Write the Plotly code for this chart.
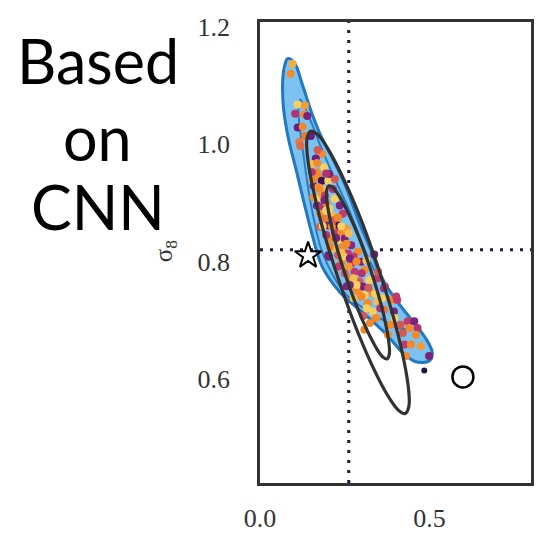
import plotly.graph_objects as go

# ---------------- data (Omega_m, sigma_8) ----------------
x_ticks = [0.0, 0.5]
x_ticktext = ["0.0", "0.5"]
y_ticks = [0.6, 0.8, 1.0, 1.2]
y_ticktext = ["0.6", "0.8", "1.0", "1.2"]

fiducial_om = 0.262
fiducial_s8 = 0.82

star_om = [0.142]
star_s8 = [0.810]
circle_om = [0.599]
circle_s8 = [0.603]
lone_om = [0.485]
lone_s8 = [0.614]

# outer (95%) CNN contour
outer_om = [0.0814, 0.1017, 0.1250, 0.1512, 0.1802, 0.2180, 0.2500, 0.2674, 0.2965, 0.3256,
            0.3430, 0.3721, 0.4128, 0.4506, 0.4884, 0.5087, 0.5000, 0.4593, 0.4215, 0.3721,
            0.3052, 0.2384, 0.1831, 0.1570, 0.1308, 0.1076, 0.0843, 0.0698, 0.0669, 0.0727, 0.0814]
outer_s8 = [1.1458, 1.1390, 1.1017, 1.0559, 1.0136, 0.9712, 0.9322, 0.9068, 0.8610, 0.8220,
            0.7932, 0.7593, 0.7254, 0.6983, 0.6695, 0.6441, 0.6305, 0.6288, 0.6441, 0.6763,
            0.7119, 0.7458, 0.7915, 0.8390, 0.8983, 0.9542, 1.0085, 1.0593, 1.1068, 1.1339, 1.1458]

# inner (68%) CNN contour
inner_om = [0.1192, 0.1453, 0.1802, 0.2209, 0.2616, 0.2907, 0.3140, 0.3430, 0.3837, 0.4215,
            0.4448, 0.4419, 0.4070, 0.3634, 0.3052, 0.2529, 0.2122, 0.1802, 0.1599, 0.1424,
            0.1279, 0.1163, 0.1134, 0.1192]
inner_s8 = [1.0763, 1.0458, 0.9949, 0.9407, 0.8898, 0.8475, 0.8136, 0.7797, 0.7492, 0.7203,
            0.7000, 0.6864, 0.6864, 0.7000, 0.7203, 0.7441, 0.7797, 0.8220, 0.8695, 0.9237,
            0.9831, 1.0339, 1.0627, 1.0763]

# comparison contours (2-sigma and 1-sigma ellipses)
ell2_om = [0.4291, 0.4392, 0.4392, 0.4093, 0.3471, 0.2695, 0.1971, 0.1692, 0.1494, 0.1392,
           0.1392, 0.1692, 0.2314, 0.3090, 0.3814, 0.4093, 0.4291]
ell2_s8 = [0.5405, 0.5517, 0.5785, 0.6708, 0.7927, 0.9117, 0.9956, 1.0169, 1.0222, 1.0110,
           0.9842, 0.8919, 0.7700, 0.6510, 0.5671, 0.5458, 0.5405]

ell1_om = [0.3750, 0.3814, 0.3814, 0.3631, 0.3250, 0.2773, 0.2328, 0.2157, 0.2035, 0.1971,
           0.1971, 0.2154, 0.2535, 0.3012, 0.3456, 0.3628, 0.3750]
ell1_s8 = [0.6337, 0.6405, 0.6569, 0.7136, 0.7885, 0.8614, 0.9127, 0.9259, 0.9290, 0.9222,
           0.9058, 0.8492, 0.7742, 0.7014, 0.6500, 0.6368, 0.6337]

# individual CNN predictions
pts_om = [0.0959, 0.0901, 0.1105, 0.1328, 0.1038, 0.1308, 0.1395, 0.1113, 0.1259, 0.1163,
          0.1192, 0.1328, 0.1503, 0.1823, 0.1648, 0.1890, 0.1532, 0.1677, 0.1532, 0.1724,
          0.1823, 0.2015, 0.2209, 0.1578, 0.1724, 0.1840, 0.1578, 0.1695, 0.1823, 0.1919,
          0.1677, 0.1823, 0.1968, 0.2209, 0.2355, 0.1773, 0.1919, 0.2113, 0.2259, 0.2305,
          0.2015, 0.2209, 0.2404, 0.2549, 0.2113, 0.2305, 0.2500, 0.2695, 0.2451, 0.2209,
          0.2015, 0.2305, 0.2596, 0.2887, 0.3372, 0.2404, 0.2695, 0.2985, 0.2500, 0.2791,
          0.3081, 0.2695, 0.2936, 0.3227, 0.3468, 0.3032, 0.2840, 0.3081, 0.3323, 0.3663,
          0.3177, 0.3468, 0.3858, 0.4049, 0.3323, 0.3663, 0.3953, 0.3081, 0.3858, 0.4148,
          0.3488, 0.3683, 0.4020, 0.4360, 0.4555, 0.4651, 0.4410, 0.4602, 0.4215, 0.4265,
          0.4456, 0.4747, 0.4991, 0.4311, 0.3247, 0.3974, 0.3779, 0.2035, 0.2762, 0.1948,
          0.2122, 0.2471, 0.2616, 0.2762, 0.2907, 0.2558, 0.2326, 0.2151, 0.1686, 0.2035,
          0.2762, 0.3052, 0.3430, 0.3605, 0.2442, 0.2616, 0.3140, 0.2064, 0.1773,
          0.175, 0.190, 0.205, 0.215, 0.230, 0.185, 0.195, 0.225, 0.240, 0.255,
          0.265, 0.285, 0.300, 0.285, 0.320, 0.300, 0.340, 0.355, 0.170, 0.155,
          0.195, 0.250, 0.265, 0.315, 0.240]
pts_s8 = [1.1373, 1.1203, 1.0678, 1.0661, 1.0520, 1.0508, 1.0480, 1.0283, 1.0300, 1.0039,
          0.9971, 1.0141, 1.0141, 0.9831, 0.9758, 0.9605, 0.9661, 0.9520, 0.9520, 0.9436,
          0.9378, 0.9378, 0.9407, 0.9293, 0.9266, 0.9237, 0.9097, 0.9068, 0.9153, 0.9124,
          0.8954, 0.8927, 0.8983, 0.9068, 0.8954, 0.8814, 0.8729, 0.8785, 0.8729, 0.8615,
          0.8615, 0.8503, 0.8503, 0.8559, 0.8390, 0.8361, 0.8390, 0.8276, 0.8249, 0.8220,
          0.8107, 0.8107, 0.8136, 0.8164, 0.8119, 0.7995, 0.7966, 0.7995, 0.7853, 0.7825,
          0.7853, 0.7712, 0.7656, 0.7683, 0.7712, 0.7571, 0.7542, 0.7429, 0.7458, 0.7542,
          0.7288, 0.7317, 0.7344, 0.7344, 0.7147, 0.7175, 0.7147, 0.6836, 0.6920, 0.6920,
          0.7825, 0.7571, 0.7402, 0.6978, 0.6978, 0.6864, 0.6864, 0.6751, 0.6780, 0.6581,
          0.6581, 0.6554, 0.6385, 0.6385, 0.6949, 0.7034, 0.6751, 0.8080, 0.7712, 0.8864,
          0.8593, 0.8085, 0.7915, 0.8085, 0.7458, 0.7576, 0.7915, 0.9237, 0.9678, 0.9492,
          0.7373, 0.7068, 0.7034, 0.7373, 0.8814, 0.8475, 0.8017, 0.8254, 0.8593,
          0.925, 0.905, 0.890, 0.870, 0.875, 0.860, 0.845, 0.840, 0.815, 0.830,
          0.805, 0.800, 0.780, 0.760, 0.755, 0.740, 0.745, 0.720, 0.990, 0.940,
          0.950, 0.780, 0.760, 0.720, 0.860]
pts_c = [0.85, 0.75, 0.95, 0.80, 0.45, 0.75, 0.30, 0.25, 0.75, 0.70,
         0.65, 0.70, 0.25, 0.75, 0.25, 0.95, 0.90, 0.75, 0.45, 0.75,
         0.10, 0.95, 0.60, 0.30, 0.80, 0.90, 0.75, 0.95, 0.80, 0.50,
         0.30, 0.45, 0.75, 0.95, 0.30, 0.75, 0.70, 0.90, 0.75, 0.10,
         0.30, 0.50, 0.75, 0.80, 0.75, 0.95, 0.30, 0.35, 0.75, 0.90,
         0.30, 0.60, 0.50, 0.75, 0.25, 0.75, 0.50, 0.30, 0.95, 0.50,
         0.75, 0.70, 0.60, 0.95, 0.50, 0.30, 0.75, 0.95, 0.75, 0.35,
         0.75, 0.90, 0.75, 0.50, 0.95, 0.70, 0.30, 0.75, 0.75, 0.60,
         0.60, 0.45, 0.50, 0.50, 0.30, 0.45, 0.75, 0.75, 0.60, 0.50,
         0.75, 0.80, 0.30, 0.75, 0.75, 0.95, 0.75, 0.30, 0.90, 0.95,
         0.75, 0.95, 0.80, 0.50, 0.75, 0.30, 0.50, 0.45, 0.75, 0.30,
         0.90, 0.60, 0.75, 0.95, 0.50, 0.90, 0.90, 0.75, 0.60,
         0.75, 0.30, 0.95, 0.60, 0.75, 0.95, 0.45, 0.30, 0.90, 0.75,
         0.30, 0.75, 0.45, 0.95, 0.60, 0.75, 0.95, 0.45, 0.60, 0.75,
         0.45, 0.60, 0.30, 0.95, 0.95]

pt_colorscale = [[0.0, "#1b0c41"], [0.25, "#6a1c81"], [0.5, "#c13a6e"],
                 [0.75, "#f4892a"], [1.0, "#f5e26c"]]

# ---------------- figure ----------------
fig = go.Figure()

dot_col = "#1c1c3a"
fig.add_shape(type="line", xref="x", yref="paper", x0=fiducial_om, x1=fiducial_om, y0=0, y1=1,
              line=dict(color=dot_col, width=3, dash="3px,7px"), layer="below")
fig.add_shape(type="line", xref="paper", yref="y", x0=0, x1=1, y0=fiducial_s8, y1=fiducial_s8,
              line=dict(color=dot_col, width=3, dash="3px,7px"), layer="below")

fig.add_trace(go.Scatter(x=outer_om, y=outer_s8, mode="lines", fill="toself",
                         fillcolor="#7cc2f1", line=dict(color="#1f78c0", width=3, shape="spline"),
                         hoverinfo="skip"))
fig.add_trace(go.Scatter(x=inner_om, y=inner_s8, mode="lines",
                         line=dict(color="#2a7cc2", width=2, shape="spline"),
                         hoverinfo="skip"))
fig.add_trace(go.Scatter(x=pts_om, y=pts_s8, mode="markers",
                         marker=dict(size=8, color=pts_c, colorscale=pt_colorscale,
                                     cmin=0, cmax=1, line=dict(width=0))))
for ex, ey in [(ell2_om, ell2_s8), (ell1_om, ell1_s8)]:
    fig.add_trace(go.Scatter(x=ex, y=ey, mode="lines",
                             line=dict(color="#333333", width=3.2, shape="spline"),
                             hoverinfo="skip"))
fig.add_trace(go.Scatter(x=lone_om, y=lone_s8, mode="markers",
                         marker=dict(size=6, color="#1c1840")))
fig.add_trace(go.Scatter(x=star_om, y=star_s8, mode="markers",
                         marker=dict(symbol="star-open", size=20, color="black",
                                     line=dict(width=2, color="black"))))
fig.add_trace(go.Scatter(x=circle_om, y=circle_s8, mode="markers",
                         marker=dict(symbol="circle-open", size=21, color="black",
                                     line=dict(width=2.5, color="black"))))

tick_font = dict(family="Liberation Serif, Times New Roman, serif", size=26, color="#333333")
fig.update_xaxes(range=[0, 0.8], tickvals=x_ticks, ticktext=x_ticktext, showgrid=False,
                 zeroline=False, showline=True, linecolor="#333333", linewidth=2.5, mirror=True,
                 ticks="", tickfont=tick_font, ticklabelstandoff=10)
fig.update_yaxes(range=[0.422, 1.2085], tickvals=y_ticks, ticktext=y_ticktext, showgrid=False,
                 zeroline=False, showline=True, linecolor="#333333", linewidth=2.5, mirror=True,
                 ticks="", tickfont=tick_font, ticklabelstandoff=22)

big_font = dict(family="Lato, Open Sans, sans-serif", size=61, color="black")
for txt, yy in [("Based", 0.916), ("on", 0.750), ("CNN", 0.600)]:
    fig.add_annotation(text=txt, xref="paper", yref="paper", x=-0.5985, y=yy,
                       xanchor="center", yanchor="middle", showarrow=False, font=big_font)
fig.add_annotation(text="σ<sub>8</sub>", xref="paper", yref="paper", x=-0.35, y=0.503,
                   xanchor="center", yanchor="middle", showarrow=False, textangle=-90,
                   font=dict(family="Liberation Serif, serif", size=25, color="#333333"))

fig.update_layout(width=537, height=536, margin=dict(l=260, r=3, t=22, b=50),
                  paper_bgcolor="white", plot_bgcolor="white", showlegend=False)

fig.write_html("out.html", config={"displayModeBar": False},
               post_script="document.body.style.margin='0px';document.body.style.overflow='hidden';")
